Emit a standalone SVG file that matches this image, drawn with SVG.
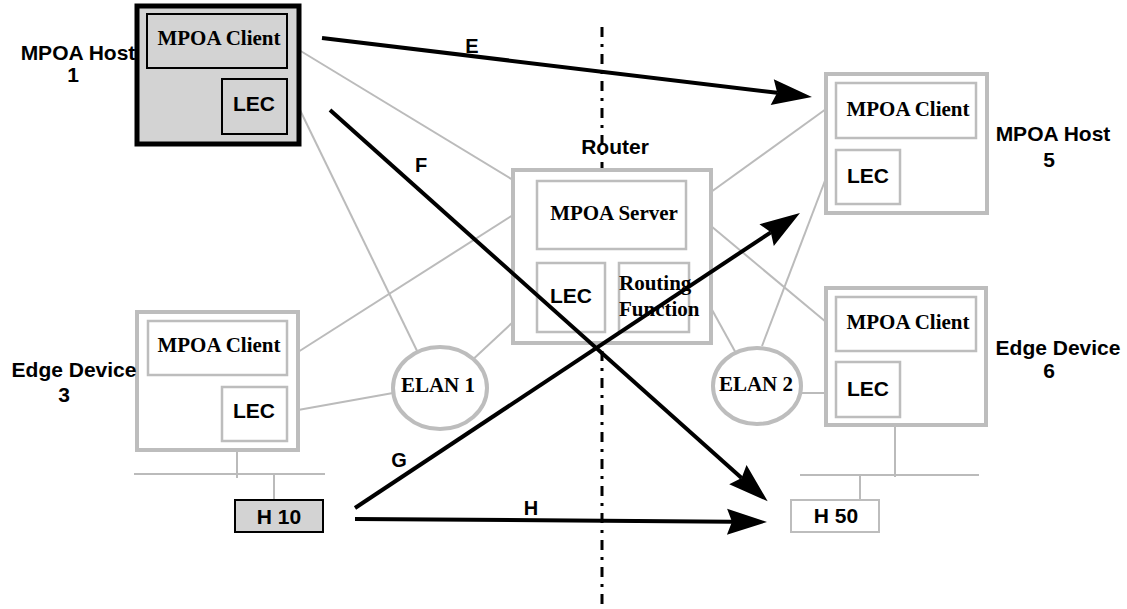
<svg xmlns="http://www.w3.org/2000/svg" width="1127" height="609" viewBox="0 0 1127 609">
<style>
.sans{font-family:"Liberation Sans",Arial,sans-serif;font-weight:bold;font-size:21px;fill:#000}
.serif{font-family:"Liberation Serif","Times New Roman",serif;font-weight:bold;font-size:21px;fill:#000}
.lbl{font-family:"Liberation Sans",Arial,sans-serif;font-weight:bold;font-size:20px;fill:#000}
.mid{text-anchor:middle}
.outer{fill:#fff;stroke:#bdbdbd;stroke-width:4}
.inner{fill:#fff;stroke:#bdbdbd;stroke-width:2.5}
.hostouter{fill:#d3d3d3;stroke:#000;stroke-width:5}
.hostinner{fill:#d3d3d3;stroke:#000;stroke-width:2}
.link{stroke:#bbbbbb;stroke-width:2;fill:none}
.flow{stroke:#000;stroke-width:4;fill:none;marker-end:url(#ah)}
.divider{stroke:#000;stroke-width:3;stroke-dasharray:10 7 3 7;fill:none}
</style>
<defs>
<marker id="ah" markerUnits="userSpaceOnUse" markerWidth="50" markerHeight="30" viewBox="-2 -15 46 30" refX="5" refY="0" orient="auto" overflow="visible">
<path d="M40,0 L0,-13 L5,0 L0,13 Z" fill="#000"/>
</marker>
</defs>
<rect width="1127" height="609" fill="#fff"/>

<g id="divider">
<line class="divider" x1="602" y1="27" x2="602" y2="609"/>
</g>

<g id="links">
<line class="link" x1="299" y1="50" x2="513" y2="180"/>
<line class="link" x1="299" y1="108" x2="420" y2="357"/>
<line class="link" x1="298" y1="352" x2="513" y2="215"/>
<line class="link" x1="298" y1="410" x2="393" y2="393"/>
<line class="link" x1="468" y1="364" x2="513" y2="322"/>
<line class="link" x1="711" y1="192" x2="826" y2="109"/>
<line class="link" x1="711" y1="226" x2="826" y2="322"/>
<line class="link" x1="711" y1="308" x2="737" y2="355"/>
<line class="link" x1="762" y1="346" x2="826" y2="178"/>
<line class="link" x1="801" y1="393" x2="826" y2="393"/>
<line class="link" x1="237" y1="450" x2="237" y2="478"/>
<line class="link" x1="134" y1="474" x2="325" y2="474"/>
<line class="link" x1="274" y1="474" x2="274" y2="500"/>
<line class="link" x1="895" y1="425" x2="895" y2="477"/>
<line class="link" x1="800" y1="475" x2="979" y2="475"/>
<line class="link" x1="860" y1="475" x2="860" y2="500"/>
</g>

<g id="host1">
<rect class="hostouter" x="137" y="6" width="162" height="138"/>
<rect class="hostinner" x="147" y="14" width="140" height="54"/>
<rect class="hostinner" x="222" y="79" width="65" height="55"/>
<text class="serif mid" x="219" y="45">MPOA Client</text>
<text class="sans mid" x="254" y="111">LEC</text>
<text class="sans mid" x="78" y="60">MPOA Host</text>
<text class="sans mid" x="73" y="82">1</text>
</g>

<g id="router">
<rect class="outer" x="513" y="170" width="198" height="173"/>
<rect class="inner" x="537" y="181" width="149" height="68"/>
<rect class="inner" x="537" y="263" width="68" height="69"/>
<rect class="inner" x="619" y="263" width="70" height="69"/>
<text class="serif mid" x="614" y="220">MPOA Server</text>
<text class="sans mid" x="571" y="303">LEC</text>
<text class="serif" x="619" y="290">Routing</text>
<text class="serif" x="619" y="316">Function</text>
<text class="sans mid" x="615" y="154">Router</text>
</g>

<g id="host5">
<rect class="outer" x="826" y="74" width="161" height="139"/>
<rect class="inner" x="836" y="83" width="140" height="55"/>
<rect class="inner" x="836" y="150" width="64" height="54"/>
<text class="serif mid" x="908" y="116">MPOA Client</text>
<text class="sans mid" x="868" y="183">LEC</text>
<text class="sans mid" x="1053" y="141">MPOA Host</text>
<text class="sans mid" x="1049" y="167">5</text>
</g>

<g id="edge3">
<rect class="outer" x="137" y="312" width="161" height="138"/>
<rect class="inner" x="148" y="321" width="139" height="54"/>
<rect class="inner" x="222" y="387" width="65" height="54"/>
<text class="serif mid" x="219" y="352">MPOA Client</text>
<text class="sans mid" x="254" y="418">LEC</text>
<text class="sans mid" x="74" y="377">Edge Device</text>
<text class="sans mid" x="64" y="402">3</text>
</g>

<g id="edge6">
<rect class="outer" x="826" y="288" width="160" height="137"/>
<rect class="inner" x="836" y="297" width="140" height="54"/>
<rect class="inner" x="836" y="362" width="64" height="55"/>
<text class="serif mid" x="908" y="329">MPOA Client</text>
<text class="sans mid" x="868" y="396">LEC</text>
<text class="sans mid" x="1058" y="355">Edge Device</text>
<text class="sans mid" x="1049" y="378">6</text>
</g>

<g id="elan1">
<ellipse class="outer" cx="440" cy="388" rx="47" ry="41"/>
<text class="serif mid" x="438" y="392">ELAN 1</text>
</g>

<g id="elan2">
<ellipse class="outer" cx="757" cy="386" rx="44" ry="38"/>
<text class="serif mid" x="756" y="391">ELAN 2</text>
</g>

<g id="h10">
<rect x="235" y="500" width="88" height="32" fill="#d3d3d3" stroke="#000" stroke-width="2"/>
<text class="sans mid" x="279" y="524">H 10</text>
</g>

<g id="h50">
<rect x="791" y="500" width="88" height="32" fill="#fff" stroke="#bdbdbd" stroke-width="2"/>
<text class="sans mid" x="836" y="523">H 50</text>
</g>

<g id="flows">
<line class="flow" x1="322" y1="38" x2="777.2" y2="92.8"/>
<line class="flow" x1="330" y1="110" x2="741.6" y2="478"/>
<line class="flow" x1="355" y1="508" x2="770.8" y2="232.3"/>
<line class="flow" x1="355" y1="519" x2="732" y2="521.7"/>
<text class="lbl mid" x="472" y="53">E</text>
<text class="lbl mid" x="421" y="172">F</text>
<text class="lbl mid" x="399" y="467">G</text>
<text class="lbl mid" x="531" y="515">H</text>
</g>
</svg>
